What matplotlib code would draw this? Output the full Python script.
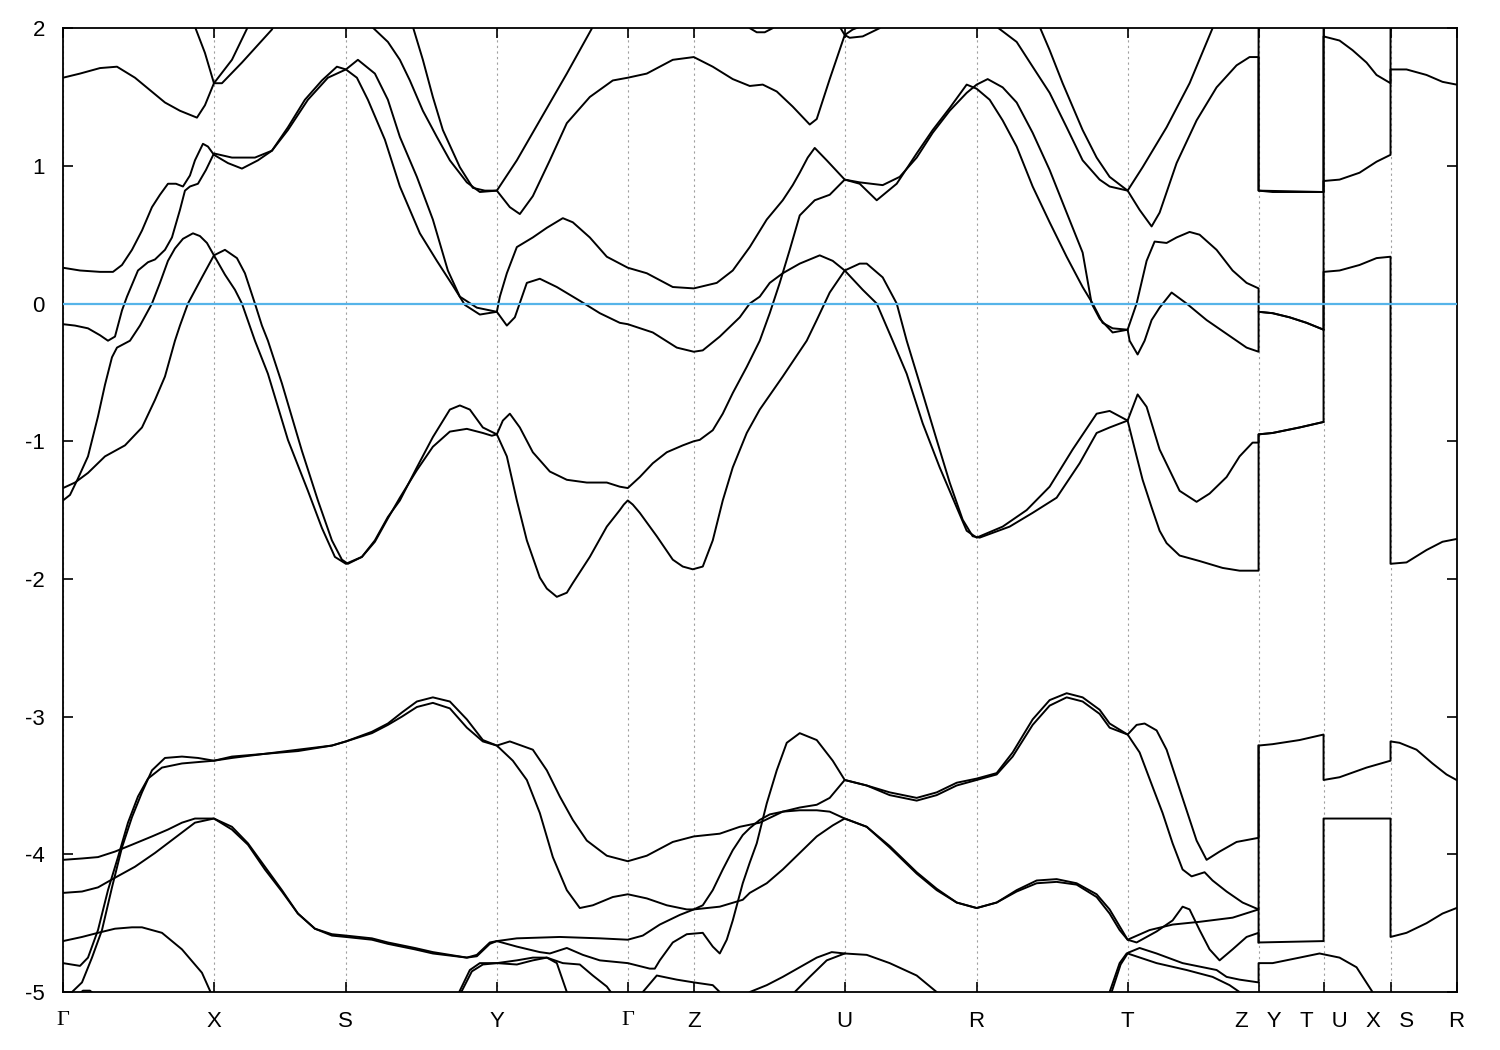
import matplotlib
matplotlib.use("Agg")
import matplotlib.pyplot as plt

plt.rcParams['font.family'] = ['Liberation Sans', 'DejaVu Sans']

# k-path positions of the high symmetry points (arbitrary path units)
tick_pos = [0, 151, 283, 434, 565, 631, 782, 914, 1065, 1196, 1261, 1328, 1394]
tick_labels = ['Γ', 'X', 'S', 'Y', 'Γ', 'Z', 'U', 'R', 'T', 'Z   Y', 'T   U', 'X   S', 'R']
y_ticks = [2, 1, 0, -1, -2, -3, -4, -5]

# bands near the Fermi level, (k, E) pairs
band_m1 = [(0, 0.26), (17, 0.24), (37, 0.23), (50, 0.23), (59, 0.28), (69, 0.39), (79, 0.53), (89, 0.70),
           (97, 0.79), (105, 0.87), (113, 0.87), (120, 0.85), (127, 0.93), (132, 1.04), (140, 1.16), (145, 1.14),
           (151, 1.08), (165, 1.02), (179, 0.98), (195, 1.04), (209, 1.11), (225, 1.28), (242, 1.48), (259, 1.62),
           (274, 1.72), (283, 1.70), (294, 1.64), (305, 1.48), (322, 1.19), (337, 0.85), (357, 0.51), (374, 0.31),
           (390, 0.13), (402, -0.01), (417, -0.08), (434, -0.06), (444, -0.16), (452, -0.10), (464, 0.15),
           (477, 0.18), (494, 0.12), (517, 0.02), (537, -0.07), (557, -0.14), (565, -0.15), (590, -0.21),
           (614, -0.32), (631, -0.35), (640, -0.34), (657, -0.24), (677, -0.10), (687, 0.00), (697, 0.05),
           (707, 0.15), (720, 0.22), (737, 0.29), (757, 0.35), (770, 0.31), (782, 0.24), (800, 0.10), (814, 0.00),
           (830, -0.27), (844, -0.51), (860, -0.87), (877, -1.19), (894, -1.48), (904, -1.65), (914, -1.70),
           (940, -1.62), (964, -1.50), (987, -1.33), (1010, -1.06), (1034, -0.80), (1047, -0.78), (1065, -0.85),
           (1075, -0.66), (1084, -0.75), (1097, -1.06), (1107, -1.21), (1117, -1.36), (1134, -1.44), (1147, -1.38),
           (1164, -1.26), (1177, -1.11), (1190, -1.01), (1196, -1.01), (1196, -0.95), (1210, -0.94), (1237, -0.90),
           (1261, -0.86), (1261, 0.23), (1277, 0.24), (1297, 0.28), (1314, 0.33), (1328, 0.34), (1328, -1.89),
           (1344, -1.88), (1364, -1.79), (1380, -1.73), (1394, -1.71)]

band_m2 = [(0, -0.15), (12, -0.16), (25, -0.18), (37, -0.23), (45, -0.27), (52, -0.24), (59, -0.05), (64, 0.05),
           (75, 0.24), (85, 0.30), (92, 0.32), (102, 0.39), (109, 0.48), (117, 0.68), (122, 0.82), (127, 0.85),
           (135, 0.87), (143, 0.97), (151, 1.09), (169, 1.06), (192, 1.06), (209, 1.11), (225, 1.26), (245, 1.48),
           (265, 1.64), (283, 1.70), (295, 1.77), (312, 1.67), (325, 1.48), (337, 1.21), (354, 0.92), (370, 0.61),
           (385, 0.24), (397, 0.05), (414, -0.03), (434, -0.06), (437, 0.05), (444, 0.22), (454, 0.41), (470, 0.48),
           (484, 0.55), (500, 0.62), (510, 0.59), (527, 0.48), (544, 0.34), (565, 0.26), (584, 0.22), (610, 0.12),
           (631, 0.11), (654, 0.15), (670, 0.24), (687, 0.41), (704, 0.61), (720, 0.75), (730, 0.86), (737, 0.95),
           (745, 1.06), (752, 1.13), (764, 1.04), (782, 0.90), (797, 0.87), (814, 0.75), (834, 0.87), (854, 1.09),
           (870, 1.26), (887, 1.42), (904, 1.59), (914, 1.56), (927, 1.48), (940, 1.33), (954, 1.14), (970, 0.85),
           (987, 0.59), (1004, 0.34), (1020, 0.12), (1030, 0.00), (1040, -0.14), (1050, -0.18), (1065, -0.19),
           (1074, 0.00), (1084, 0.31), (1092, 0.45), (1104, 0.44), (1114, 0.48), (1127, 0.52), (1137, 0.50),
           (1154, 0.39), (1170, 0.24), (1184, 0.15), (1196, 0.11), (1196, -0.06), (1210, -0.07), (1227, -0.10),
           (1244, -0.14), (1261, -0.19), (1261, 0.89), (1277, 0.90), (1297, 0.95), (1314, 1.03), (1328, 1.08),
           (1328, 1.70), (1344, 1.70), (1364, 1.66), (1380, 1.61), (1394, 1.59)]

band_m3 = [(0, -1.43), (7, -1.39), (15, -1.27), (25, -1.11), (35, -0.82), (42, -0.59), (49, -0.39), (54, -0.32),
           (67, -0.27), (77, -0.16), (89, 0.00), (97, 0.15), (105, 0.31), (112, 0.40), (120, 0.47), (130, 0.51),
           (137, 0.49), (144, 0.44), (151, 0.35), (162, 0.21), (172, 0.10), (179, 0.00), (192, -0.27), (205, -0.51),
           (225, -0.99), (245, -1.36), (259, -1.63), (272, -1.84), (283, -1.89), (299, -1.84), (312, -1.72),
           (325, -1.55), (337, -1.43), (354, -1.19), (370, -0.97), (387, -0.77), (397, -0.74), (407, -0.77),
           (420, -0.90), (434, -0.95), (440, -0.85), (447, -0.80), (457, -0.90), (470, -1.08), (487, -1.22),
           (504, -1.28), (524, -1.30), (544, -1.30), (557, -1.33), (565, -1.34), (577, -1.26), (590, -1.16),
           (604, -1.08), (620, -1.03), (631, -1.00), (637, -0.99), (650, -0.92), (660, -0.80), (670, -0.65),
           (684, -0.46), (697, -0.27), (707, -0.07), (717, 0.15), (727, 0.39), (737, 0.64), (752, 0.75), (767, 0.79),
           (782, 0.90), (797, 0.88), (820, 0.86), (837, 0.92), (854, 1.06), (870, 1.24), (887, 1.40), (904, 1.53),
           (914, 1.59), (925, 1.63), (940, 1.57), (954, 1.46), (970, 1.24), (987, 0.97), (1004, 0.66), (1020, 0.37),
           (1029, 0.00), (1037, -0.11), (1050, -0.21), (1065, -0.19), (1067, -0.27), (1075, -0.37), (1082, -0.27),
           (1089, -0.12), (1097, -0.03), (1109, 0.08), (1124, 0.00), (1144, -0.12), (1164, -0.22), (1184, -0.32),
           (1196, -0.35), (1196, -0.06), (1210, -0.07), (1227, -0.10), (1244, -0.14), (1261, -0.19)]

band_m4 = [(0, -1.34), (12, -1.30), (25, -1.23), (42, -1.11), (62, -1.03), (79, -0.90), (92, -0.70), (102, -0.53),
           (112, -0.27), (117, -0.16), (125, 0.00), (139, 0.19), (151, 0.35), (162, 0.39), (174, 0.33), (182, 0.22),
           (192, 0.00), (199, -0.16), (205, -0.27), (219, -0.58), (239, -1.07), (255, -1.43), (269, -1.72),
           (279, -1.86), (285, -1.89), (299, -1.84), (312, -1.73), (325, -1.56), (337, -1.41), (354, -1.21),
           (370, -1.04), (387, -0.93), (404, -0.91), (420, -0.94), (429, -0.96), (434, -0.95), (444, -1.11),
           (454, -1.43), (464, -1.72), (477, -1.99), (484, -2.07), (494, -2.13), (504, -2.10), (510, -2.03),
           (527, -1.84), (544, -1.62), (557, -1.50), (561, -1.46), (565, -1.43), (570, -1.46), (577, -1.52),
           (594, -1.69), (610, -1.86), (620, -1.91), (630, -1.93), (640, -1.91), (650, -1.72), (660, -1.43),
           (670, -1.19), (684, -0.94), (697, -0.77), (720, -0.53), (744, -0.27), (754, -0.12), (767, 0.08),
           (782, 0.24), (797, 0.29), (804, 0.29), (820, 0.19), (834, 0.00), (844, -0.27), (857, -0.58), (874, -0.99),
           (887, -1.30), (900, -1.57), (910, -1.69), (917, -1.70), (947, -1.62), (970, -1.52), (994, -1.41),
           (1017, -1.16), (1034, -0.94), (1047, -0.90), (1065, -0.85), (1074, -1.11), (1080, -1.28), (1089, -1.48),
           (1097, -1.65), (1104, -1.74), (1117, -1.83), (1137, -1.87), (1160, -1.92), (1177, -1.94), (1196, -1.94),
           (1196, -0.95), (1210, -0.94), (1237, -0.90), (1261, -0.86)]

# bands reaching the top of the window
band_t1 = [(0, 1.64), (17, 1.67), (37, 1.71), (54, 1.72), (72, 1.64), (87, 1.55), (102, 1.46), (117, 1.40),
           (134, 1.35), (142, 1.44), (151, 1.60), (169, 1.77), (185, 2.01), (189, 2.05)]
band_t2 = [(130, 2.05), (132, 2.01), (142, 1.82), (151, 1.60), (159, 1.60), (179, 1.75), (199, 1.91), (209, 1.99),
           (213, 2.05)]
band_t3 = [(306, 2.05), (309, 2.01), (325, 1.90), (337, 1.77), (347, 1.62), (360, 1.40), (374, 1.21), (387, 1.04),
           (404, 0.88), (417, 0.81), (434, 0.82), (454, 1.04), (477, 1.33), (504, 1.67), (530, 2.01), (533, 2.05)]
band_t4 = [(349, 2.05), (350, 2.01), (360, 1.77), (370, 1.50), (380, 1.26), (397, 0.99), (410, 0.84), (422, 0.82),
           (434, 0.82), (447, 0.70), (457, 0.65), (470, 0.78), (487, 1.04), (504, 1.31), (527, 1.50), (550, 1.62),
           (565, 1.64), (584, 1.67), (610, 1.77), (631, 1.79), (650, 1.72), (670, 1.63), (687, 1.58), (700, 1.59),
           (714, 1.54), (730, 1.43), (747, 1.30), (754, 1.34), (767, 1.63), (782, 1.95), (787, 1.93), (800, 1.94),
           (817, 2.00), (822, 2.05)]
band_t5 = [(682, 2.05), (687, 2.00), (694, 1.97), (702, 1.97), (710, 2.00), (714, 2.05)]
band_t6 = [(775, 2.05), (777, 2.01), (782, 1.95), (790, 1.99), (797, 2.01), (800, 2.05)]
band_t7 = [(932, 2.05), (934, 2.01), (954, 1.90), (970, 1.72), (987, 1.53), (1004, 1.28), (1020, 1.04),
           (1037, 0.90), (1047, 0.85), (1065, 0.82), (1080, 0.99), (1104, 1.28), (1127, 1.60), (1150, 2.00),
           (1153, 2.05)]
band_t8 = [(975, 2.05), (977, 2.01), (987, 1.84), (1000, 1.60), (1020, 1.26), (1034, 1.06), (1047, 0.92),
           (1065, 0.82), (1077, 0.68), (1089, 0.56), (1097, 0.66), (1114, 1.02), (1134, 1.33), (1154, 1.57),
           (1174, 1.73), (1187, 1.79), (1196, 1.79), (1196, 0.82), (1210, 0.81), (1261, 0.81), (1261, 1.94),
           (1277, 1.91), (1290, 1.84), (1304, 1.75), (1314, 1.66), (1328, 1.60), (1328, 2.30)]
band_t9 = [(1196, 2.30), (1196, 0.82), (1261, 0.81), (1261, 2.30)]

# lower valence bands
band_l1 = [(0, -4.04), (19, -4.03), (35, -4.02), (52, -3.98), (69, -3.93), (89, -3.87), (105, -3.82),
           (119, -3.77), (132, -3.74), (151, -3.74), (169, -3.80), (185, -3.92), (202, -4.09), (219, -4.26),
           (235, -4.43), (252, -4.54), (269, -4.58), (283, -4.59), (309, -4.61), (325, -4.64), (352, -4.68),
           (370, -4.71), (404, -4.75), (414, -4.73), (427, -4.64), (434, -4.63), (454, -4.61), (497, -4.60),
           (537, -4.61), (565, -4.62), (580, -4.59), (597, -4.51), (617, -4.44), (631, -4.40), (640, -4.37),
           (650, -4.26), (660, -4.11), (670, -3.97), (680, -3.86), (687, -3.81), (697, -3.75), (707, -3.71),
           (720, -3.69), (737, -3.68), (754, -3.68), (767, -3.69), (782, -3.74), (804, -3.80), (827, -3.94),
           (854, -4.13), (874, -4.25), (894, -4.35), (914, -4.39), (934, -4.35), (954, -4.26), (974, -4.19),
           (994, -4.18), (1014, -4.21), (1034, -4.29), (1047, -4.40), (1065, -4.62), (1087, -4.55), (1110, -4.51),
           (1137, -4.49), (1170, -4.46), (1196, -4.40), (1196, -4.64)]

band_l2 = [(0, -4.28), (19, -4.27), (35, -4.24), (52, -4.17), (72, -4.09), (92, -3.99), (112, -3.88),
           (132, -3.77), (151, -3.74), (169, -3.82), (185, -3.93), (202, -4.11), (219, -4.27), (235, -4.43),
           (252, -4.54), (269, -4.59), (283, -4.60), (309, -4.62), (325, -4.65), (352, -4.69), (370, -4.72),
           (404, -4.75), (414, -4.74), (427, -4.65), (434, -4.63), (454, -4.67), (477, -4.71), (487, -4.72),
           (504, -4.68), (520, -4.73), (537, -4.77), (565, -4.79), (587, -4.83), (592, -4.83), (597, -4.77),
           (610, -4.64), (624, -4.58), (640, -4.57), (650, -4.67), (657, -4.72), (664, -4.62), (670, -4.48),
           (680, -4.21), (687, -4.06), (694, -3.92), (704, -3.63), (714, -3.39), (724, -3.19), (737, -3.12),
           (754, -3.17), (770, -3.32), (782, -3.46), (804, -3.50), (827, -3.57), (854, -3.61), (874, -3.57),
           (894, -3.50), (914, -3.46), (934, -3.42), (950, -3.29), (970, -3.06), (987, -2.92), (1004, -2.86),
           (1020, -2.89), (1037, -2.98), (1047, -3.08), (1065, -3.13), (1077, -3.26), (1090, -3.51), (1100, -3.70),
           (1110, -3.92), (1120, -4.11), (1129, -4.16), (1142, -4.13), (1150, -4.19), (1164, -4.27), (1180, -4.35),
           (1196, -4.40), (1196, -3.21)]

band_l3 = [(0, -4.79), (17, -4.81), (25, -4.75), (35, -4.55), (45, -4.26), (55, -4.02), (65, -3.77), (75, -3.58),
           (85, -3.45), (99, -3.37), (119, -3.34), (135, -3.33), (151, -3.32), (169, -3.29), (202, -3.27),
           (235, -3.24), (269, -3.21), (283, -3.18), (309, -3.11), (325, -3.05), (339, -2.97), (354, -2.89),
           (370, -2.86), (387, -2.89), (404, -3.02), (420, -3.17), (434, -3.21), (447, -3.18), (470, -3.24),
           (484, -3.39), (497, -3.58), (510, -3.75), (524, -3.90), (544, -4.01), (565, -4.05), (584, -4.01),
           (610, -3.91), (631, -3.87), (657, -3.85), (677, -3.80), (697, -3.77), (720, -3.69), (737, -3.66),
           (754, -3.64), (767, -3.59), (782, -3.46), (804, -3.50), (827, -3.55), (854, -3.59), (874, -3.55),
           (894, -3.48), (914, -3.45), (934, -3.41), (950, -3.26), (970, -3.02), (987, -2.88), (1004, -2.83),
           (1020, -2.86), (1037, -2.95), (1047, -3.05), (1065, -3.13), (1074, -3.06), (1082, -3.05), (1094, -3.10),
           (1104, -3.24), (1114, -3.46), (1124, -3.68), (1134, -3.90), (1144, -4.04), (1157, -3.98), (1174, -3.91),
           (1196, -3.88), (1196, -3.21), (1210, -3.20), (1237, -3.17), (1261, -3.13), (1261, -3.46), (1277, -3.44),
           (1304, -3.37), (1328, -3.32), (1328, -3.18), (1337, -3.19), (1354, -3.24), (1370, -3.34), (1384, -3.42),
           (1394, -3.46)]

band_l4 = [(7, -5.05), (9, -5.00), (19, -4.93), (29, -4.75), (39, -4.55), (49, -4.24), (59, -3.95), (69, -3.73),
           (79, -3.55), (89, -3.39), (102, -3.30), (119, -3.29), (135, -3.30), (151, -3.32), (169, -3.30),
           (202, -3.27), (235, -3.25), (269, -3.21), (283, -3.18), (309, -3.12), (325, -3.06), (339, -3.00),
           (354, -2.93), (370, -2.90), (387, -2.94), (404, -3.08), (420, -3.18), (434, -3.21), (450, -3.32),
           (464, -3.46), (477, -3.70), (490, -4.02), (504, -4.26), (517, -4.39), (530, -4.37), (550, -4.31),
           (565, -4.29), (584, -4.32), (604, -4.37), (624, -4.40), (631, -4.40), (657, -4.38), (680, -4.33),
           (687, -4.28), (704, -4.21), (720, -4.11), (737, -3.99), (754, -3.87), (770, -3.79), (782, -3.74),
           (804, -3.80), (827, -3.95), (854, -4.14), (874, -4.26), (894, -4.35), (914, -4.39), (934, -4.35),
           (954, -4.27), (974, -4.21), (994, -4.20), (1014, -4.22), (1034, -4.31), (1047, -4.43), (1057, -4.55),
           (1065, -4.62), (1074, -4.64), (1094, -4.56), (1110, -4.48), (1120, -4.38), (1127, -4.40), (1137, -4.55),
           (1147, -4.69), (1157, -4.77), (1170, -4.69), (1184, -4.60), (1196, -4.57), (1196, -4.64), (1261, -4.63),
           (1261, -3.74), (1328, -3.74), (1328, -4.60), (1344, -4.57), (1364, -4.50), (1380, -4.43), (1394, -4.39)]

band_l5 = [(0, -4.63), (19, -4.60), (35, -4.57), (52, -4.54), (69, -4.53), (79, -4.53), (99, -4.57), (119, -4.69),
           (139, -4.86), (147, -4.99), (150, -5.04)]
band_l5b = [(15, -5.02), (20, -4.99), (27, -4.99), (32, -5.02)]
band_l6 = [(395, -5.02), (407, -4.84), (417, -4.79), (434, -4.79), (454, -4.80), (470, -4.77), (484, -4.75),
           (494, -4.79), (504, -5.00), (506, -5.04)]
band_l7 = [(397, -5.02), (409, -4.85), (420, -4.80), (434, -4.79), (454, -4.77), (470, -4.75), (484, -4.75),
           (500, -4.79), (517, -4.80), (530, -4.88), (544, -4.96), (550, -5.02)]
band_l8 = [(577, -5.04), (580, -5.00), (594, -4.88), (614, -4.91), (631, -4.93), (650, -4.95), (657, -5.00),
           (659, -5.04)]
band_l9 = [(682, -5.04), (687, -5.00), (704, -4.95), (720, -4.89), (737, -4.82), (754, -4.75), (769, -4.71),
           (782, -4.72), (804, -4.73), (827, -4.79), (854, -4.88), (874, -5.00), (877, -5.04)]
band_l9b = [(729, -5.04), (732, -5.00), (747, -4.89), (764, -4.77), (782, -4.72)]
band_l10 = [(1045, -5.04), (1047, -5.00), (1057, -4.79), (1064, -4.72), (1067, -4.71), (1077, -4.68),
            (1094, -4.72), (1120, -4.79), (1154, -4.84), (1164, -4.89), (1177, -4.91), (1196, -4.93),
            (1196, -4.79), (1210, -4.79), (1237, -4.75), (1257, -4.72), (1277, -4.75), (1294, -4.82),
            (1310, -5.00), (1313, -5.04)]
band_l11 = [(1047, -5.04), (1049, -5.00), (1058, -4.80), (1065, -4.72), (1094, -4.79), (1124, -4.84),
            (1150, -4.89), (1167, -4.95), (1177, -5.00), (1180, -5.04)]

bands = [band_m1, band_m2, band_m3, band_m4,
         band_t1, band_t2, band_t3, band_t4, band_t5, band_t6, band_t7, band_t8, band_t9,
         band_l1, band_l2, band_l3, band_l4, band_l5, band_l5b, band_l6, band_l7, band_l8,
         band_l9, band_l9b, band_l10, band_l11]

fig = plt.figure(figsize=(15, 10.5), dpi=100)
ax = fig.add_axes([0.042, 0.0552, 0.929, 0.918])

for b in bands:
    ax.plot([p[0] for p in b], [p[1] for p in b], color='black', lw=1.4, solid_joinstyle='round')

ax.axhline(0, color='#56b4e9', lw=1.6, zorder=3)

ax.set_xlim(tick_pos[0], tick_pos[-1])
ax.set_ylim(-5, 2)
ax.set_xticks(tick_pos)
ax.set_xticklabels(tick_labels, fontsize=16)
for lab in ax.get_xticklabels():
    if lab.get_text() == 'Γ':
        lab.set_fontfamily('Liberation Serif')
ax.set_yticks(y_ticks)
ax.set_yticklabels([str(v) for v in y_ticks], fontsize=16)
ax.tick_params(axis='both', direction='in', length=7, width=1.2, top=True, right=True)
ax.tick_params(axis='x', pad=14)
ax.tick_params(axis='y', pad=13)
ax.grid(axis='x', color='#a0a0a0', linestyle=(0, (2, 3)), lw=0.8)
for s in ax.spines.values():
    s.set_linewidth(1.3)

fig.savefig('out.png', dpi=100)
